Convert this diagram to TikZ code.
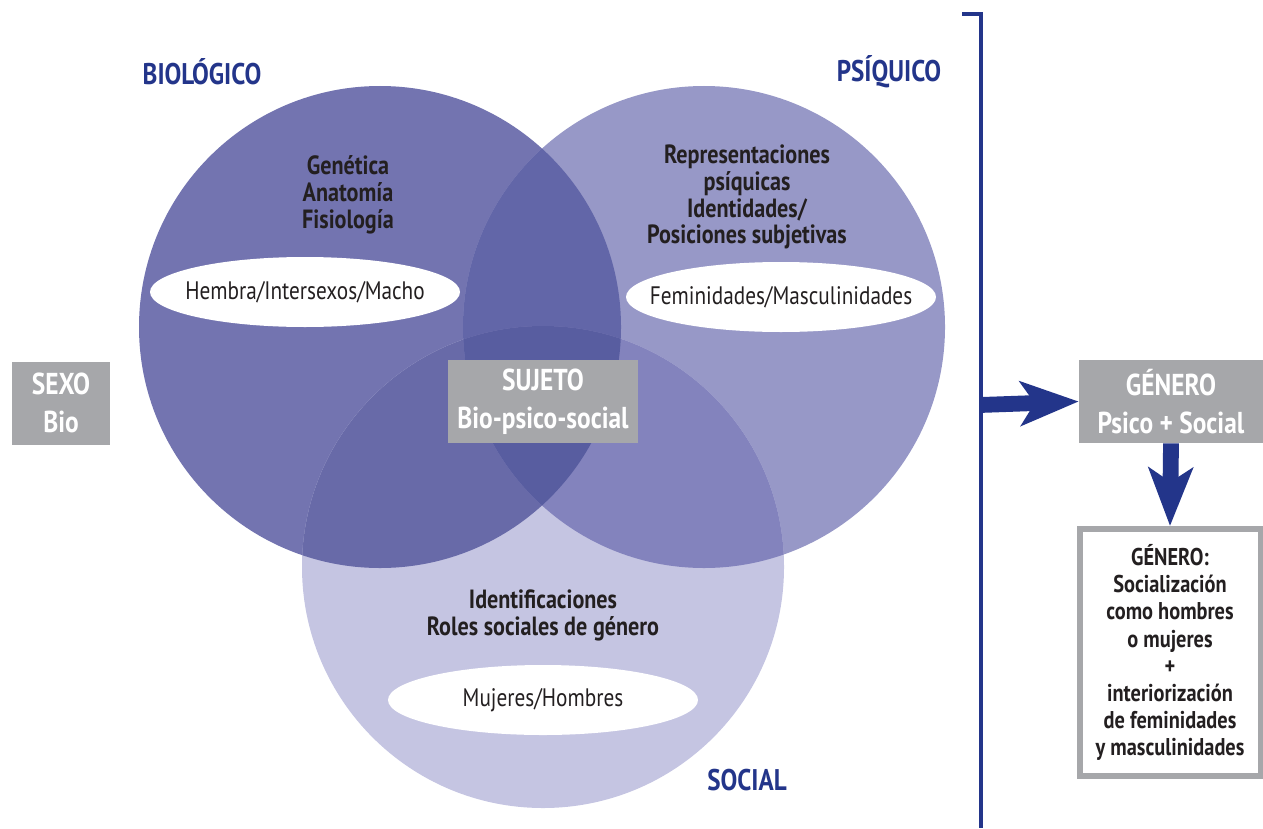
\documentclass[tikz,border=0pt]{standalone}
\usepackage{fontspec}
\setmainfont{PT Sans}[FakeStretch=0.84]
\usetikzlibrary{arrows.meta}

\definecolor{bioC}{RGB}{115,116,176}
\definecolor{psiC}{RGB}{151,152,199}
\definecolor{socC}{RGB}{197,197,226}
\definecolor{bioPsiC}{RGB}{98,102,168}
\definecolor{bioSocC}{RGB}{104,106,168}
\definecolor{psiSocC}{RGB}{131,131,189}
\definecolor{midC}{RGB}{88,93,160}
\definecolor{navyC}{RGB}{35,53,138}
\definecolor{boxC}{RGB}{166,167,170}
\definecolor{inkC}{RGB}{35,31,32}

\tikzset{
	title/.style={text=navyC, font=\fontsize{17}{20}\selectfont\bfseries},
	body/.style={text=inkC, align=center, font=\fontsize{15}{15.3}\selectfont\bfseries},
	ovaltext/.style={text=inkC, font=\fontsize{14.4}{16}\selectfont},
	graybox/.style={fill=boxC, text=white, align=center, inner sep=0pt,
		minimum height={83*0.02cm}, font=\fontsize{17.2}{21.5}\selectfont\bfseries},
	bigarrow/.style={draw=navyC, line width=9pt,
		-{Stealth[length=33pt, width=25pt, inset=8pt, fill=navyC]}}
}

\begin{document}
\begin{tikzpicture}[x=0.02cm, y=-0.02cm]

% frame %{{{2

	\useasboundingbox (0,0) rectangle (1263,828);

% coordinates %{{{2

	\coordinate (Bio) at (380,327);
	\coordinate (Psi) at (704,327);
	\coordinate (Soc) at (543,567);
	\def\rad{241}

	% ---- oval centres

	\coordinate (oBio) at (305,292);
	\coordinate (oPsi) at (781,297);
	\coordinate (oSoc) at (543,700);

% circles %{{{2

	\fill[bioC] (Bio) circle (\rad);
	\fill[psiC] (Psi) circle (\rad);
	\fill[socC] (Soc) circle (\rad);

	% ---- overlaps

	\begin{scope}
		\clip (Bio) circle (\rad);
		\fill[bioPsiC] (Psi) circle (\rad);
		\fill[bioSocC] (Soc) circle (\rad);
	\end{scope}
	\begin{scope}
		\clip (Psi) circle (\rad);
		\fill[psiSocC] (Soc) circle (\rad);
		\clip (Bio) circle (\rad);
		\fill[midC] (Soc) circle (\rad);
	\end{scope}

% titles %{{{2

	\node[title] (tBio) at (202,72) {BIOLÓGICO};
	\node[title] (tPsi) at (889,72) {PSÍQUICO};
	\node[title] (tSoc) at (747,780) {SOCIAL};

% circle contents %{{{2

	\node[body] (gen) at (348,195) {Genética\\Anatomía\\Fisiología};
	\node[body] (rep) at (747,197) {Representaciones\\psíquicas\\Identidades/\\Posiciones subjetivas};
	\node[body] (ide) at (543,615) {Identificaciones\\Roles sociales de género};

	% ---- white ovals

	\foreach \o in {oBio,oPsi,oSoc}
		\fill[white] (\o) ellipse [x radius=155, y radius=35];

	\node[ovaltext] (hem) at (oBio) {Hembra/Intersexos/Macho};
	\node[ovaltext] (fem) at (oPsi) {Feminidades/Masculinidades};
	\node[ovaltext] (muj) at (oSoc) {Mujeres/Hombres};

% gray boxes %{{{2

	\node[graybox, minimum width={98*0.02cm}] (sexo) at (61,403) {SEXO\\Bio};
	\node[graybox, minimum width={190*0.02cm}] (sujeto) at (543,401.5) {SUJETO\\Bio-psico-social};
	\node[graybox, minimum width={184*0.02cm}] (genero) at (1171,401.5) {GÉNERO\\Psico + Social};

	% ---- result box

	\node[draw=boxC, line width=3.4pt, fill=white, body, inner sep=0pt,
		font=\fontsize{13.8}{15.4}\selectfont\bfseries,
		minimum width={181*0.02cm}, minimum height={247*0.02cm}]
		(res) at (1170,652.5) {GÉNERO:\\Socialización\\como hombres\\o mujeres\\+\\interiorización\\de feminidades\\y masculinidades};

% bracket and arrows %{{{2

	\coordinate (top) at (962,14);
	\coordinate (bend) at (981,14);
	\coordinate (foot) at (981,828);
	\coordinate (out) at (980,405);

	\draw[navyC, line width=1.8pt] (top) -- (bend) -- (foot);

	\draw[bigarrow] (out) -- (genero.west);
	\draw[bigarrow] (genero.south) -- (res.north);

% closing %{{{2

\end{tikzpicture}
\end{document}
